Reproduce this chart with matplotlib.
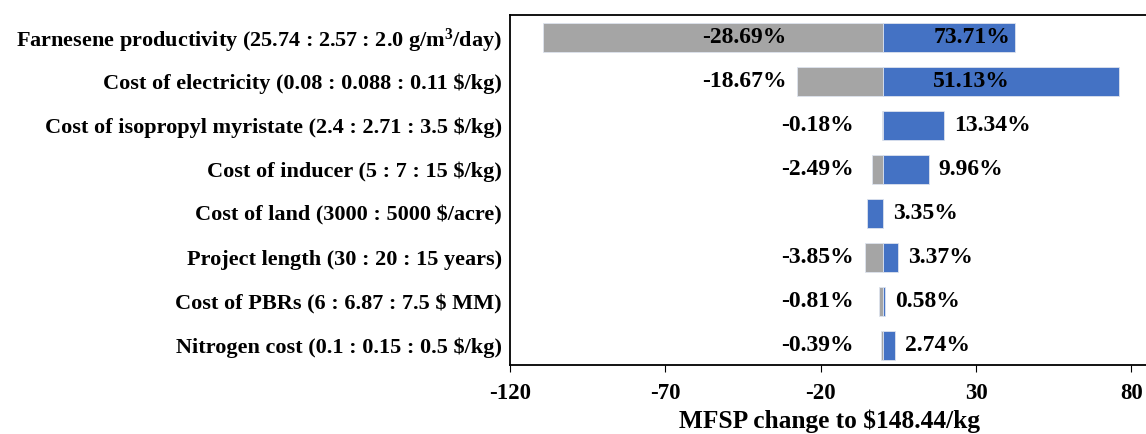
import matplotlib
matplotlib.use("Agg")
import matplotlib.pyplot as plt

categories = [
    "Farnesene productivity (25.74 : 2.57 : 2.0 g/m$^{3}$/day)",
    "Cost of electricity (0.08 : 0.088 : 0.11 $/kg)",
    "Cost of isopropyl myristate (2.4 : 2.71 : 3.5 $/kg)",
    "Cost of inducer (5 : 7 : 15 $/kg)",
    "Cost of land (3000 : 5000 $/acre)",
    "Project length (30 : 20 : 15 years)",
    "Cost of PBRs (6 : 6.87 : 7.5 $ MM)",
    "Nitrogen cost (0.1 : 0.15 : 0.5 $/kg)",
]
# MFSP change ($/kg)
gray_vals = [-109.4, -27.7, -0.27, -3.6, 0.0, -5.7, -1.2, -0.58]
blue_vals = [42.6, 75.9, 19.8, 14.8, -4.97, 5.0, 0.86, 4.07]
neg_labels = ["-28.69%", "-18.67%", "-0.18%", "-2.49%", "", "-3.85%", "-0.81%", "-0.39%"]
pos_labels = ["73.71%", "51.13%", "13.34%", "9.96%", "3.35%", "3.37%", "0.58%", "2.74%"]
xticks = [-120, -70, -20, 30, 80]

FONT = "Liberation Serif"
plt.rcParams["font.family"] = [FONT, "DejaVu Serif"]
plt.rcParams["mathtext.fontset"] = "custom"
plt.rcParams["mathtext.rm"] = FONT
plt.rcParams["mathtext.bf"] = FONT + ":bold"
plt.rcParams["mathtext.default"] = "bf"

fig = plt.figure(figsize=(11.46, 4.34), dpi=100)
ax = fig.add_axes([0.445, 0.159, 0.5585, 0.806])

GRAY = "#A5A5A5"
BLUE = "#4472C4"
ypos = list(range(len(categories)))
h = 0.65
ax.barh(ypos, gray_vals, height=h, color=GRAY, edgecolor="#DDE3EE", linewidth=0.6, zorder=2)
ax.barh(ypos, blue_vals, height=h, color=BLUE, edgecolor="#DDE3EE", linewidth=0.6, zorder=3)

fs_lab = 17
for i in ypos:
    if neg_labels[i]:
        nx = -31 if i < 2 else -9.4
        ax.text(nx, i, neg_labels[i], ha="right", va="center", fontsize=fs_lab,
                fontweight="bold", zorder=5)
    if i < 2:
        px = 16.2
    else:
        px = max(blue_vals[i], 0) + 3.2
    ax.text(px, i, pos_labels[i], ha="left", va="center", fontsize=fs_lab,
            fontweight="bold", zorder=5)

ax.set_xlim(-120, 86)
ax.set_ylim(7.44, -0.5)
ax.set_xticks(xticks)
ax.set_xticklabels([str(t) for t in xticks], fontsize=16.5, fontweight="bold")
ax.set_yticks(ypos)
ax.set_yticklabels(categories, fontsize=16, fontweight="bold")
ax.tick_params(axis="x", direction="out", length=5, width=0.8, pad=8)
ax.tick_params(axis="y", length=0, pad=6)
for s in ax.spines.values():
    s.set_linewidth(1.3)
ax.spines["right"].set_visible(False)
ax.set_xlabel("MFSP change to $148.44/kg", fontsize=18.3, fontweight="bold", labelpad=4)

fig.savefig("out.png", dpi=100)
